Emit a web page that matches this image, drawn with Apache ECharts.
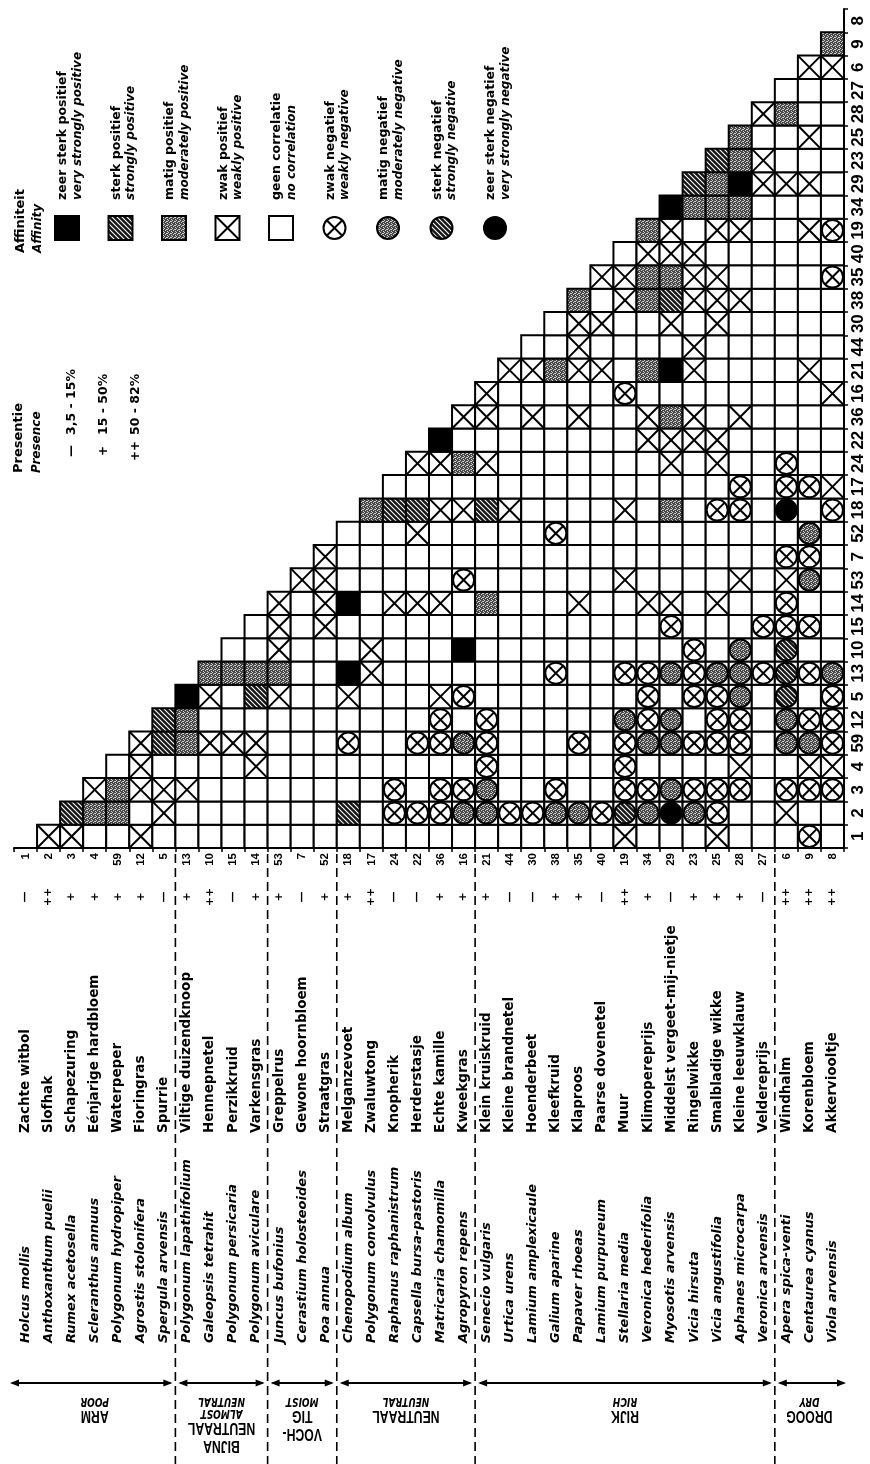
<!DOCTYPE html>
<html><head><meta charset="utf-8">
<script src="https://cdn.jsdelivr.net/npm/echarts@6/dist/echarts.min.js"></script>
<style>html,body{margin:0;padding:0;background:#fff}#c{width:870px;height:1464px}</style>
</head><body><div id="c"></div>
<script>
// ---------------- DATA ----------------
const speciesCodes = ['1','2','3','4','59','12','5','13','10','15','14','53','7','52','18','17','24','22','36','16','21','44','30','38','35','40','19','34','29','23','25','28','27','6','9','8'];
const presenceMarks = ['—','++','+','+','+','+','—','+','++','—','+','+','—','+','+','++','—','—','+','+','+','—','—','+','+','—','++','+','—','+','+','+','—','++','++','++'];
const dutchNames = ['Zachte witbol','Slofhak','Schapezuring','Eénjarige hardbloem','Waterpeper','Fioringras','Spurrie','Viltige duizendknoop','Hennepnetel','Perzikkruid','Varkensgras','Greppelrus','Gewone hoornbloem','Straatgras','Melganzevoet','Zwaluwtong','Knopherik','Herderstasje','Echte kamille','Kweekgras','Klein kruiskruid','Kleine brandnetel','Hoenderbeet','Kleefkruid','Klaproos','Paarse dovenetel','Muur','Klimopereprijs','Middelst vergeet-mij-nietje','Ringelwikke','Smalbladige wikke','Kleine leeuwklauw','Veldereprijs','Windhalm','Korenbloem','Akkerviooltje'];
const latinNames = ['Holcus mollis','Anthoxanthum puelii','Rumex acetosella','Scleranthus annuus','Polygonum hydropiper','Agrostis stolonifera','Spergula arvensis','Polygonum lapathifolium','Galeopsis tetrahit','Polygonum persicaria','Polygonum aviculare','Juncus bufonius','Cerastium holosteoides','Poa annua','Chenopodium album','Polygonum convolvulus','Raphanus raphanistrum','Capsella bursa-pastoris','Matricaria chamomilla','Agropyron repens','Senecio vulgaris','Urtica urens','Lamium amplexicaule','Galium aparine','Papaver rhoeas','Lamium purpureum','Stellaria media','Veronica hederifolia','Myosotis arvensis','Vicia hirsuta','Vicia angustifolia','Aphanes microcarpa','Veronica arvensis','Apera spica-venti','Centaurea cyanus','Viola arvensis'];

// affinity codes: 0 none, 1 weak+, 2 moderate+, 3 strong+, 4 very strong+, -1 weak-, -2 moderate-, -3 strong-, -4 very strong-
// affinityRows[r] lists columns r+1 .. 35
const affinityRows = [
  [1,1,0,0,1, 0,0,0,0,0, 0,0,0,0,0, 0,0,0,0,0, 0,0,0,0,0, 1,0,0,0,1, 0,0,0,-1,0],
  [3,2,2,0,1, 0,0,0,0,0, 0,0,3,0,-1, -1,-1,-2,-2,-1, -1,-2,-2,-1,-3, -2,-4,-2,-1,0, 0,1,0,0],
  [1,2,1,1,1, 0,0,0,0,0, 0,0,0,-1,0, -1,-1,-2,0,0, -1,0,0,-1,-1, -2,-1,-1,-1,0, -1,-1,-1],
  [0,1,0,0,0, 0,1,0,0,0, 0,0,0,0,0, 0,-1,0,0,0, 0,0,-1,0,0, 0,0,1,0,0, 1,1],
  [1,3,2,1,1, 1,0,0,0,-1, 0,0,-1,-1,-2, -1,0,0,0,-1, 0,-1,-2,-2,-1, -1,-1,0,-2,-2, -1],
  [3,2,0,0,0, 0,0,0,0,0, 0,0,-1,0,-1, 0,0,0,0,0, -2,-1,-2,0,-1, -1,0,-2,-1,-1],
  [4,1,0,3,1, 0,0,1,0,0, 0,1,-1,0,0, 0,0,0,0,0, -1,0,-1,-1,-2, 0,-3,0,-1],
  [2,2,2,2,0, 0,4,1,0,0, 0,0,0,0,0, -1,0,0,-1,-1, -2,-1,-2,-2,-1, -3,-1,-2],
  [0,0,1,0,0, 0,1,0,0,0, 4,0,0,0,0, 0,0,0,0,0, -1,0,-2,0,-3, 0,0],
  [0,1,0,1,0, 0,0,0,0,0, 0,0,0,0,0, 0,0,0,-1,0, 0,0,-1,-1,-1, 0],
  [1,0,1,4,0, 1,1,1,0,2, 0,0,0,1,0, 0,1,1,0,1, 0,0,-1,0,0],
  [1,1,0,0,0, 0,0,-1,0,0, 0,0,0,0,1, 0,0,0,0,1, 0,1,-2,0],
  [1,0,0,0,0, 0,0,0,0,0, 0,0,0,0,0, 0,0,0,0,0, -1,-1,0],
  [0,0,0,1,0, 0,0,0,0,-1, 0,0,0,0,0, 0,0,0,0,0, -2,0],
  [2,3,3,1,1, 3,1,0,0,0, 0,1,0,2,0, -1,-1,0,-4,0, -1],
  [0,0,0,0,0, 0,0,0,0,0, 0,0,0,0,0, -1,0,-1,-1,1],
  [1,1,2,1,0, 0,0,0,0,0, 0,1,0,1,0, 0,-1,0,0],
  [4,0,0,0,0, 0,0,0,0,1, 1,1,1,0,0, 0,0,0],
  [1,1,0,1,0, 1,0,0,1,2, 1,0,1,0,0, 0,0],
  [1,0,0,0,0, 0,-1,0,0,0, 0,0,0,0,0, 1],
  [1,1,2,1,1, 0,2,4,1,0, 0,0,0,1,0],
  [0,0,1,0,0, 0,0,1,0,0, 0,0,0,0],
  [0,1,1,0,0, 1,0,1,0,0, 0,0,0],
  [2,0,1,2,3, 1,1,1,0,0, 0,0],
  [1,1,2,2,1, 1,0,0,0,0, -1],
  [0,1,1,1,0, 0,0,0,0,0],
  [2,1,0,1,1, 0,0,1,-1],
  [4,2,2,2,0, 0,0,0],
  [3,2,4,1,1, 1,0],
  [3,2,1,0,0, 0],
  [2,0,0,1,0],
  [1,2,0,0],
  [0,0,0],
  [1,1],
  [2]
];

const groupStart = [0, 7, 11, 14, 20, 33];
const groupEnd = [6, 10, 13, 19, 32, 35];
const groupDutch = [['ARM'], ['BIJNA', 'NEUTRAAL'], ['VOCH-', 'TIG'], ['NEUTRAAL'], ['RIJK'], ['DROOG']];
const groupEnglish = [['POOR'], ['ALMOST', 'NEUTRAL'], ['MOIST'], ['NEUTRAL'], ['RICH'], ['DRY']];

const legendTypes = [4, 3, 2, 1, 0, -1, -2, -3, -4];
const legendDutch = ['zeer sterk positief', 'sterk positief', 'matig positief', 'zwak positief', 'geen correlatie', 'zwak negatief', 'matig negatief', 'sterk negatief', 'zeer sterk negatief'];
const legendEnglish = ['very strongly positive', 'strongly positive', 'moderately positive', 'weakly positive', 'no correlation', 'weakly negative', 'moderately negative', 'strongly negative', 'very strongly negative'];
const presenceLegendMarks = ['—', '+', '++'];
const presenceLegendRanges = ['3,5 - 15%', '15 - 50%', '50 - 82%'];

// ---------------- STYLE ----------------
const F_WIDE = '"DejaVu Sans",Verdana,sans-serif';
const F_NUM = '"Liberation Sans",Arial,sans-serif';
function makeHatch() {
  const c = document.createElement('canvas'); c.width = 5; c.height = 5;
  const g = c.getContext('2d');
  g.fillStyle = '#151515'; g.fillRect(0, 0, 5, 5);
  g.strokeStyle = '#ffffff'; g.lineWidth = 1.1;
  [[-1, -1, 6, 6], [-1, 4, 1, 6], [4, -1, 6, 1]].forEach(function (l) {
    g.beginPath(); g.moveTo(l[0], l[1]); g.lineTo(l[2], l[3]); g.stroke();
  });
  return c;
}
function makeStipple() {
  const c = document.createElement('canvas'); c.width = 4; c.height = 4;
  const g = c.getContext('2d');
  g.fillStyle = '#474747'; g.fillRect(0, 0, 4, 4);
  g.fillStyle = '#d0d0d0';
  [[0, 0], [2, 1], [1, 2], [3, 3], [3, 1]].forEach(function (p) { g.fillRect(p[0], p[1], 1, 1); });
  return c;
}
const HATCH = { image: makeHatch(), repeat: 'repeat' };
const STIPPLE = { image: makeStipple(), repeat: 'repeat' };

function symbolShapes(t, x0, y0, w, h, withSquare) {
  const out = [];
  const cx = x0 + w / 2, cy = y0 + h / 2;
  const ln = { stroke: '#000', lineWidth: 2 };
  if (withSquare || t >= 0) {
    const fill = t === 4 ? '#000' : t === 3 ? HATCH : t === 2 ? STIPPLE : '#fff';
    out.push({ type: 'rect', shape: { x: x0, y: y0, width: w, height: h }, style: { fill: fill, stroke: '#000', lineWidth: 2 } });
  }
  if (t === 1) {
    out.push({ type: 'line', shape: { x1: x0, y1: y0, x2: x0 + w, y2: y0 + h }, style: ln });
    out.push({ type: 'line', shape: { x1: x0 + w, y1: y0, x2: x0, y2: y0 + h }, style: ln });
  }
  if (t < 0) {
    const rad = Math.min(w, h) / 2 - 1;
    const fill = t === -4 ? '#000' : t === -3 ? HATCH : t === -2 ? STIPPLE : '#fff';
    out.push({ type: 'circle', shape: { cx: cx, cy: cy, r: rad }, style: { fill: fill, stroke: '#000', lineWidth: 2 } });
    if (t === -1) {
      const d = rad * 0.7071;
      out.push({ type: 'line', shape: { x1: cx - d, y1: cy - d, x2: cx + d, y2: cy + d }, style: ln });
      out.push({ type: 'line', shape: { x1: cx + d, y1: cy - d, x2: cx - d, y2: cy + d }, style: ln });
    }
  }
  return out;
}

// ---------------- SERIES DATA ----------------
const cellData = [];
affinityRows.forEach(function (row, r) {
  row.forEach(function (t, k) { cellData.push([r + 1 + k, r, t]); });
});
const groupData = groupStart.map(function (s, i) { return [s, groupEnd[i], i]; });

function renderCell(params, api) {
  const p = api.coord([api.value(0), api.value(1)]);
  const s = api.size([1, 1]);
  return { type: 'group', children: symbolShapes(api.value(2), p[0] - s[0] / 2, p[1] - s[1] / 2, s[0], s[1], true) };
}

function renderGroup(params, api) {
  const s = api.value(0), e = api.value(1), i = api.value(2);
  const cw = api.size([1, 1]);
  const left = api.coord([s, 0])[0] - cw[0] / 2;
  const right = api.coord([e, 0])[0] + cw[0] / 2;
  const bottom = api.coord([0, 0])[1] + cw[1] / 2;
  const yLine = bottom + 535;
  const children = [];
  const a0 = left + (i === 0 ? -2 : 5), a1 = right - (i === 5 ? 0 : 5);
  children.push({ type: 'line', shape: { x1: a0, y1: yLine, x2: a1, y2: yLine }, style: { stroke: '#000', lineWidth: 2 } });
  children.push({ type: 'polygon', shape: { points: [[a0 - 2, yLine], [a0 + 7, yLine - 3.5], [a0 + 7, yLine + 3.5]] }, style: { fill: '#000' } });
  children.push({ type: 'polygon', shape: { points: [[a1 + 2, yLine], [a1 - 7, yLine - 3.5], [a1 - 7, yLine + 3.5]] }, style: { fill: '#000' } });
  if (i > 0) {
    children.push({ type: 'line', shape: { x1: left, y1: bottom + 6, x2: left, y2: bottom + 616 }, style: { stroke: '#000', lineWidth: 1.6, lineDash: [9, 5] } });
  }
  const lines = groupDutch[i].map(function (t) { return '{d|' + t + '}'; }).concat(groupEnglish[i].map(function (t) { return '{e|' + t + '}'; }));
  children.push({
    type: 'text', x: (left + right) / 2, y: yLine + 12, rotation: Math.PI, scaleX: 0.72,
    style: {
      text: lines.join('\n'), align: 'center', verticalAlign: 'bottom', fill: '#000',
      rich: {
        d: { fontFamily: F_NUM, fontSize: 17, fontWeight: 'bold', lineHeight: 18, fill: '#000' },
        e: { fontFamily: F_WIDE, fontSize: 12.5, fontStyle: 'italic', fontWeight: 'bold', lineHeight: 12, fill: '#000' }
      }
    }
  });
  return { type: 'group', children: children };
}

// ---------------- LEGEND (layout graphics) ----------------
const graphics = [];
function rotText(x, y, text, size, italic) {
  return {
    type: 'text', x: x, y: y, rotation: Math.PI / 2,
    style: { text: text, align: 'left', verticalAlign: 'middle', fill: '#000', font: (italic ? 'italic ' : '') + 'bold ' + size + 'px ' + F_WIDE }
  };
}
graphics.push(rotText(21, 253, 'Affiniteit', 13, false));
graphics.push(rotText(38, 253, 'Affinity', 12, true));
legendTypes.forEach(function (t, i) {
  const sx = 67 + 53.5 * i;
  graphics.push({ type: 'group', children: symbolShapes(t, sx - 12, 216, 24, 24, false) });
  graphics.push(rotText(sx - 4, 200, legendDutch[i], 12.5, false));
  graphics.push(rotText(sx + 10.5, 200, legendEnglish[i], 12, true));
});
graphics.push(rotText(19, 473, 'Presentie', 13, false));
graphics.push(rotText(37, 473, 'Presence', 12, true));
presenceLegendMarks.forEach(function (m, i) {
  const x = 72 + 32 * i;
  graphics.push({ type: 'text', x: x, y: 451, rotation: Math.PI / 2, style: { text: m, align: 'center', verticalAlign: 'middle', fill: '#000', font: 'bold 12px ' + F_WIDE } });
  graphics.push(rotText(x, 435, presenceLegendRanges[i], 12.5, false));
});

// ---------------- CHART ----------------
const baseLabel = { color: '#000', interval: 0 };
const chart = echarts.init(document.getElementById('c'), null, { renderer: 'canvas' });
chart.setOption({
  animation: false,
  backgroundColor: '#fff',
  grid: { left: 14, top: 9, right: 26, bottom: 616, containLabel: false, outerBoundsMode: 'none' },
  xAxis: [
    { type: 'category', data: speciesCodes, position: 'bottom',
      axisLine: { lineStyle: { color: '#000', width: 2 } },
      axisTick: { show: true, length: 4, lineStyle: { color: '#000', width: 1.5 } },
      splitLine: { show: false },
      axisLabel: Object.assign({}, baseLabel, { rotate: 90, fontFamily: F_NUM, fontSize: 11.5, fontWeight: 'bold', margin: 5 }) },
    { type: 'category', data: presenceMarks, position: 'bottom', offset: 49,
      axisLine: { show: false }, axisTick: { show: false }, splitLine: { show: false },
      axisLabel: Object.assign({}, baseLabel, { rotate: 90, fontFamily: F_WIDE, fontSize: 11, fontWeight: 'bold', margin: 0, align: 'center', verticalAlign: 'middle' }) },
    { type: 'category', data: dutchNames, position: 'bottom', offset: 285,
      axisLine: { show: false }, axisTick: { show: false }, splitLine: { show: false },
      axisLabel: Object.assign({}, baseLabel, { rotate: 90, fontFamily: F_WIDE, fontSize: 13.5, fontWeight: 'bold', margin: 0, align: 'left', verticalAlign: 'middle' }) },
    { type: 'category', data: latinNames, position: 'bottom', offset: 495,
      axisLine: { show: false }, axisTick: { show: false }, splitLine: { show: false },
      axisLabel: Object.assign({}, baseLabel, { rotate: 90, fontFamily: F_WIDE, fontSize: 13, fontWeight: 'bold', fontStyle: 'italic', margin: 0, align: 'left', verticalAlign: 'middle' }) }
  ],
  yAxis: {
    type: 'category', data: speciesCodes, position: 'right',
    axisLine: { lineStyle: { color: '#000', width: 2 } },
    axisTick: { show: true, length: 4, lineStyle: { color: '#000', width: 1.5 } },
    splitLine: { show: false },
    axisLabel: Object.assign({}, baseLabel, { rotate: 90, fontFamily: F_NUM, fontSize: 17, fontWeight: 'bold', margin: 14, align: 'center', verticalAlign: 'middle' })
  },
  series: [
    { type: 'custom', name: 'affinity', data: cellData, encode: { x: 0, y: 1 }, renderItem: renderCell, clip: false, z: 2 },
    { type: 'custom', name: 'groups', data: groupData, encode: { x: 0, y: 2 }, renderItem: renderGroup, clip: false, z: 3, silent: true }
  ],
  graphic: graphics
});
</script></body></html>
